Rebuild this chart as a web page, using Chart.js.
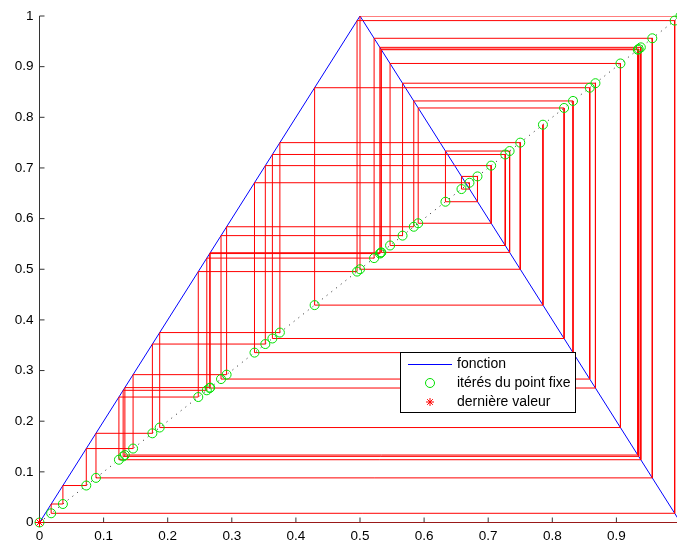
<!DOCTYPE html>
<html>
<head>
<meta charset="utf-8">
<script src="https://cdn.jsdelivr.net/npm/chart.js@4/dist/chart.umd.min.js"></script>
<style>
  html, body { margin: 0; padding: 0; background: #fff; overflow: hidden; }
  canvas { display: block; }
</style>
</head>
<body>
<canvas id="cobweb" width="682" height="542"></canvas>
<script>
// tent map f(x) = 2x / 2-2x, drawn from its three corners
const fonctionX = [0, 0.5, 1];
const fonctionY = [0, 1, 0];

const iteres = [
  0.7854, 0.4292, 0.8584, 0.2832, 0.5664, 0.8673, 0.2655, 0.5310, 0.9381, 0.1239,
  0.2477, 0.4954, 0.9909, 0.0182, 0.0365, 0.0730, 0.1460, 0.2919, 0.5839, 0.8323,
  0.3354, 0.6708, 0.6583, 0.6833, 0.6333, 0.7334, 0.5333, 0.9334, 0.1332, 0.2663,
  0.5326, 0.9348, 0.1305, 0.2610, 0.5220, 0.9560, 0.0881, 0.1761, 0.3523, 0.7046,
  0.5908, 0.8184, 0.3633, 0.7266, 0.5469, 0.9063, 0.1875, 0.375, 0.75, 0.5,
  1, 0
];

const xTicks = [0, 0.1, 0.2, 0.3, 0.4, 0.5, 0.6, 0.7, 0.8, 0.9, 1];
const yTicks = [0, 0.1, 0.2, 0.3, 0.4, 0.5, 0.6, 0.7, 0.8, 0.9, 1];
const tickLabels = ["0", "0.1", "0.2", "0.3", "0.4", "0.5", "0.6", "0.7", "0.8", "0.9", "1"];

const FONT = '"Liberation Sans", Arial, Helvetica, sans-serif';

// cobweb path: vertical to the next value, then horizontal back to the diagonal
const toile = [{ x: iteres[0], y: iteres[0] }];
for (let i = 0; i < iteres.length - 1; i++) {
  toile.push({ x: iteres[i], y: iteres[i + 1] });
  toile.push({ x: iteres[i + 1], y: iteres[i + 1] });
}
const derniere = iteres[iteres.length - 1];

// MATLAB-like axes: left + bottom lines, ticks pointing inward
const axesPlugin = {
  id: "axesPlugin",
  beforeDatasetsDraw(chart) {
    const { ctx, chartArea: a, scales } = chart;
    ctx.save();
    ctx.strokeStyle = "#333";
    ctx.lineWidth = 1;
    ctx.beginPath();
    ctx.moveTo(a.left, a.top);
    ctx.lineTo(a.left, a.bottom);
    ctx.lineTo(a.right, a.bottom);
    xTicks.forEach(v => {
      const px = scales.x.getPixelForValue(v);
      ctx.moveTo(px, a.bottom);
      ctx.lineTo(px, a.bottom - 5);
    });
    yTicks.forEach(v => {
      const py = scales.y.getPixelForValue(v);
      ctx.moveTo(a.left, py);
      ctx.lineTo(a.left + 5, py);
    });
    ctx.stroke();
    ctx.restore();
  }
};

// boxed legend inside the plot, like the original figure
const legendPlugin = {
  id: "legendPlugin",
  afterDraw(chart) {
    const ctx = chart.ctx;
    const bx = 400.5, by = 352.5, bw = 175, bh = 60;
    ctx.save();
    ctx.fillStyle = "#fff";
    ctx.fillRect(bx, by, bw, bh);
    ctx.strokeStyle = "#000";
    ctx.lineWidth = 1;
    ctx.strokeRect(bx, by, bw, bh);

    const rows = [364, 383, 402];
    const labels = ["fonction", "itérés du point fixe", "dernière valeur"];

    ctx.strokeStyle = "#0000ff";
    ctx.beginPath();
    ctx.moveTo(408, rows[0] + 0.5);
    ctx.lineTo(452, rows[0] + 0.5);
    ctx.stroke();

    ctx.strokeStyle = "rgb(0,225,0)";
    ctx.beginPath();
    ctx.arc(430, rows[1], 4.5, 0, Math.PI * 2);
    ctx.stroke();

    ctx.strokeStyle = "#ff0000";
    ctx.beginPath();
    for (let k = 0; k < 4; k++) {
      const ang = k * Math.PI / 4;
      const dx = Math.cos(ang) * 4, dy = Math.sin(ang) * 4;
      ctx.moveTo(430 - dx, rows[2] - dy);
      ctx.lineTo(430 + dx, rows[2] + dy);
    }
    ctx.stroke();

    ctx.fillStyle = "#000";
    ctx.font = "14px " + FONT;
    ctx.textBaseline = "middle";
    ctx.textAlign = "left";
    labels.forEach((t, i) => ctx.fillText(t, 457, rows[i]));
    ctx.restore();
  }
};

new Chart(document.getElementById("cobweb"), {
  type: "scatter",
  data: {
    datasets: [
      {
        label: "diagonale",
        data: [{ x: 0, y: 0 }, { x: 1, y: 1 }],
        showLine: true,
        borderColor: "#222",
        borderWidth: 1,
        borderDash: [1, 5],
        pointRadius: 0,
        order: 5
      },
      {
        label: "fonction",
        data: fonctionX.map((x, i) => ({ x, y: fonctionY[i] })),
        showLine: true,
        borderColor: "#0000ff",
        borderWidth: 1,
        pointRadius: 0,
        order: 4
      },
      {
        label: "toile",
        data: toile,
        showLine: true,
        borderColor: "#ff0000",
        borderWidth: 1,
        pointRadius: 0,
        order: 3
      },
      {
        label: "itérés du point fixe",
        data: iteres.map(v => ({ x: v, y: v })),
        showLine: false,
        pointStyle: "circle",
        pointRadius: 4.5,
        pointBorderWidth: 1,
        pointBorderColor: "rgb(0,225,0)",
        pointBackgroundColor: "rgba(0,0,0,0)",
        clip: false,
        order: 2
      },
      {
        label: "dernière valeur",
        data: [{ x: derniere, y: derniere }],
        showLine: false,
        pointStyle: "star",
        pointRadius: 4.5,
        pointBorderWidth: 1,
        pointBorderColor: "#ff0000",
        pointBackgroundColor: "#ff0000",
        clip: false,
        order: 1
      }
    ]
  },
  options: {
    responsive: false,
    animation: false,
    layout: { autoPadding: false, padding: { top: 16, right: 1.5, left: 0, bottom: 0 } },
    plugins: {
      legend: { display: false },
      tooltip: { enabled: false }
    },
    scales: {
      x: {
        type: "linear",
        min: 0,
        max: 1,
        afterFit(scale) {
          scale.height = 19.5;
          scale.paddingLeft = 0;
          scale.paddingRight = 0;
        },
        afterBuildTicks(scale) { scale.ticks = xTicks.map(v => ({ value: v })); },
        grid: { display: false, drawTicks: false },
        border: { display: false },
        ticks: {
          padding: 6,
          color: "#000",
          font: { family: FONT, size: 13.5 },
          maxRotation: 0,
          autoSkip: false,
          callback: (v) => tickLabels[xTicks.indexOf(v)]
        }
      },
      y: {
        type: "linear",
        min: 0,
        max: 1,
        afterFit(scale) {
          scale.width = 39.5;
          scale.paddingTop = 0;
          scale.paddingBottom = 0;
        },
        afterBuildTicks(scale) { scale.ticks = yTicks.map(v => ({ value: v })); },
        grid: { display: false, drawTicks: false },
        border: { display: false },
        ticks: {
          padding: 6,
          color: "#000",
          font: { family: FONT, size: 13.5 },
          autoSkip: false,
          callback: (v) => tickLabels[yTicks.indexOf(v)]
        }
      }
    }
  },
  plugins: [axesPlugin, legendPlugin]
});
</script>
</body>
</html>
